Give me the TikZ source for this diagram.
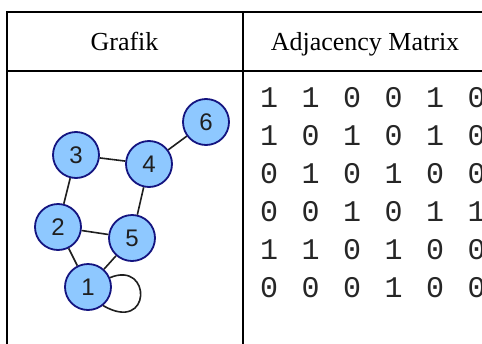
\documentclass[tikz,border=0pt]{standalone}
\usepackage{fontspec}
\setmainfont{Liberation Serif}
\newfontfamily\monofont{Liberation Mono}
\newfontfamily\labelfont{Liberation Sans}
\definecolor{nodefill}{RGB}{142,200,255}
\definecolor{nodeborder}{RGB}{20,20,128}
\begin{document}
\begin{tikzpicture}[x=1pt,y=-1pt,
 vertex/.style={circle, draw=nodeborder, fill=nodefill, line width=1.8pt, minimum size=46pt, inner sep=0pt, font=\labelfont\fontsize{24}{24}\selectfont, text=black!88},
 edgeline/.style={line width=1.6pt, draw=black!88},
 rule/.style={line width=2pt, draw=black},
 header/.style={anchor=base, font=\fontsize{26}{30}\selectfont, inner sep=0pt},
 cell/.style={anchor=base, font=\monofont\fontsize{30}{30}\selectfont, inner sep=0pt, text=black!85}]
\clip (0,0) rectangle (482,343);
\fill[white] (0,0) rectangle (482,343);
% table frame
\draw[rule] (495,12) -- (7,12) -- (7,350);
\draw[rule] (7,71) -- (495,71);
\draw[rule] (243,12) -- (243,350);
% headers
\node[header] (h1) at (124.5,50) {Grafik};
\node[header] (h2) at (365,50) {Adjacency Matrix};
% graph
\node[vertex] (n1) at (88,287) {1};
\node[vertex] (n2) at (58,227) {2};
\node[vertex] (n3) at (76,155) {3};
\node[vertex] (n4) at (149,164) {4};
\node[vertex] (n5) at (132,238) {5};
\node[vertex] (n6) at (206,122) {6};
\draw[edgeline] (n1) -- (n2);
\draw[edgeline] (n1) -- (n5);
\draw[edgeline] (n2) -- (n3);
\draw[edgeline] (n2) -- (n5);
\draw[edgeline] (n3) -- (n4);
\draw[edgeline] (n4) -- (n5);
\draw[edgeline] (n4) -- (n6);
\draw[edgeline] (n1.23) .. controls (152,260) and (152,334) .. (n1.-51);
% matrix
\foreach \row [count=\i from 0] in {{1,1,0,0,1,0},{1,0,1,0,1,0},{0,1,0,1,0,0},{0,0,1,0,1,1},{1,1,0,1,0,0},{0,0,0,1,0,0}}{
  \foreach \v [count=\j from 0] in \row {
    \node[cell] (m-\i-\j) at ({269+41.5*\j},{107.5+38*\i}) {\v};
  }
}
\end{tikzpicture}
\end{document}
